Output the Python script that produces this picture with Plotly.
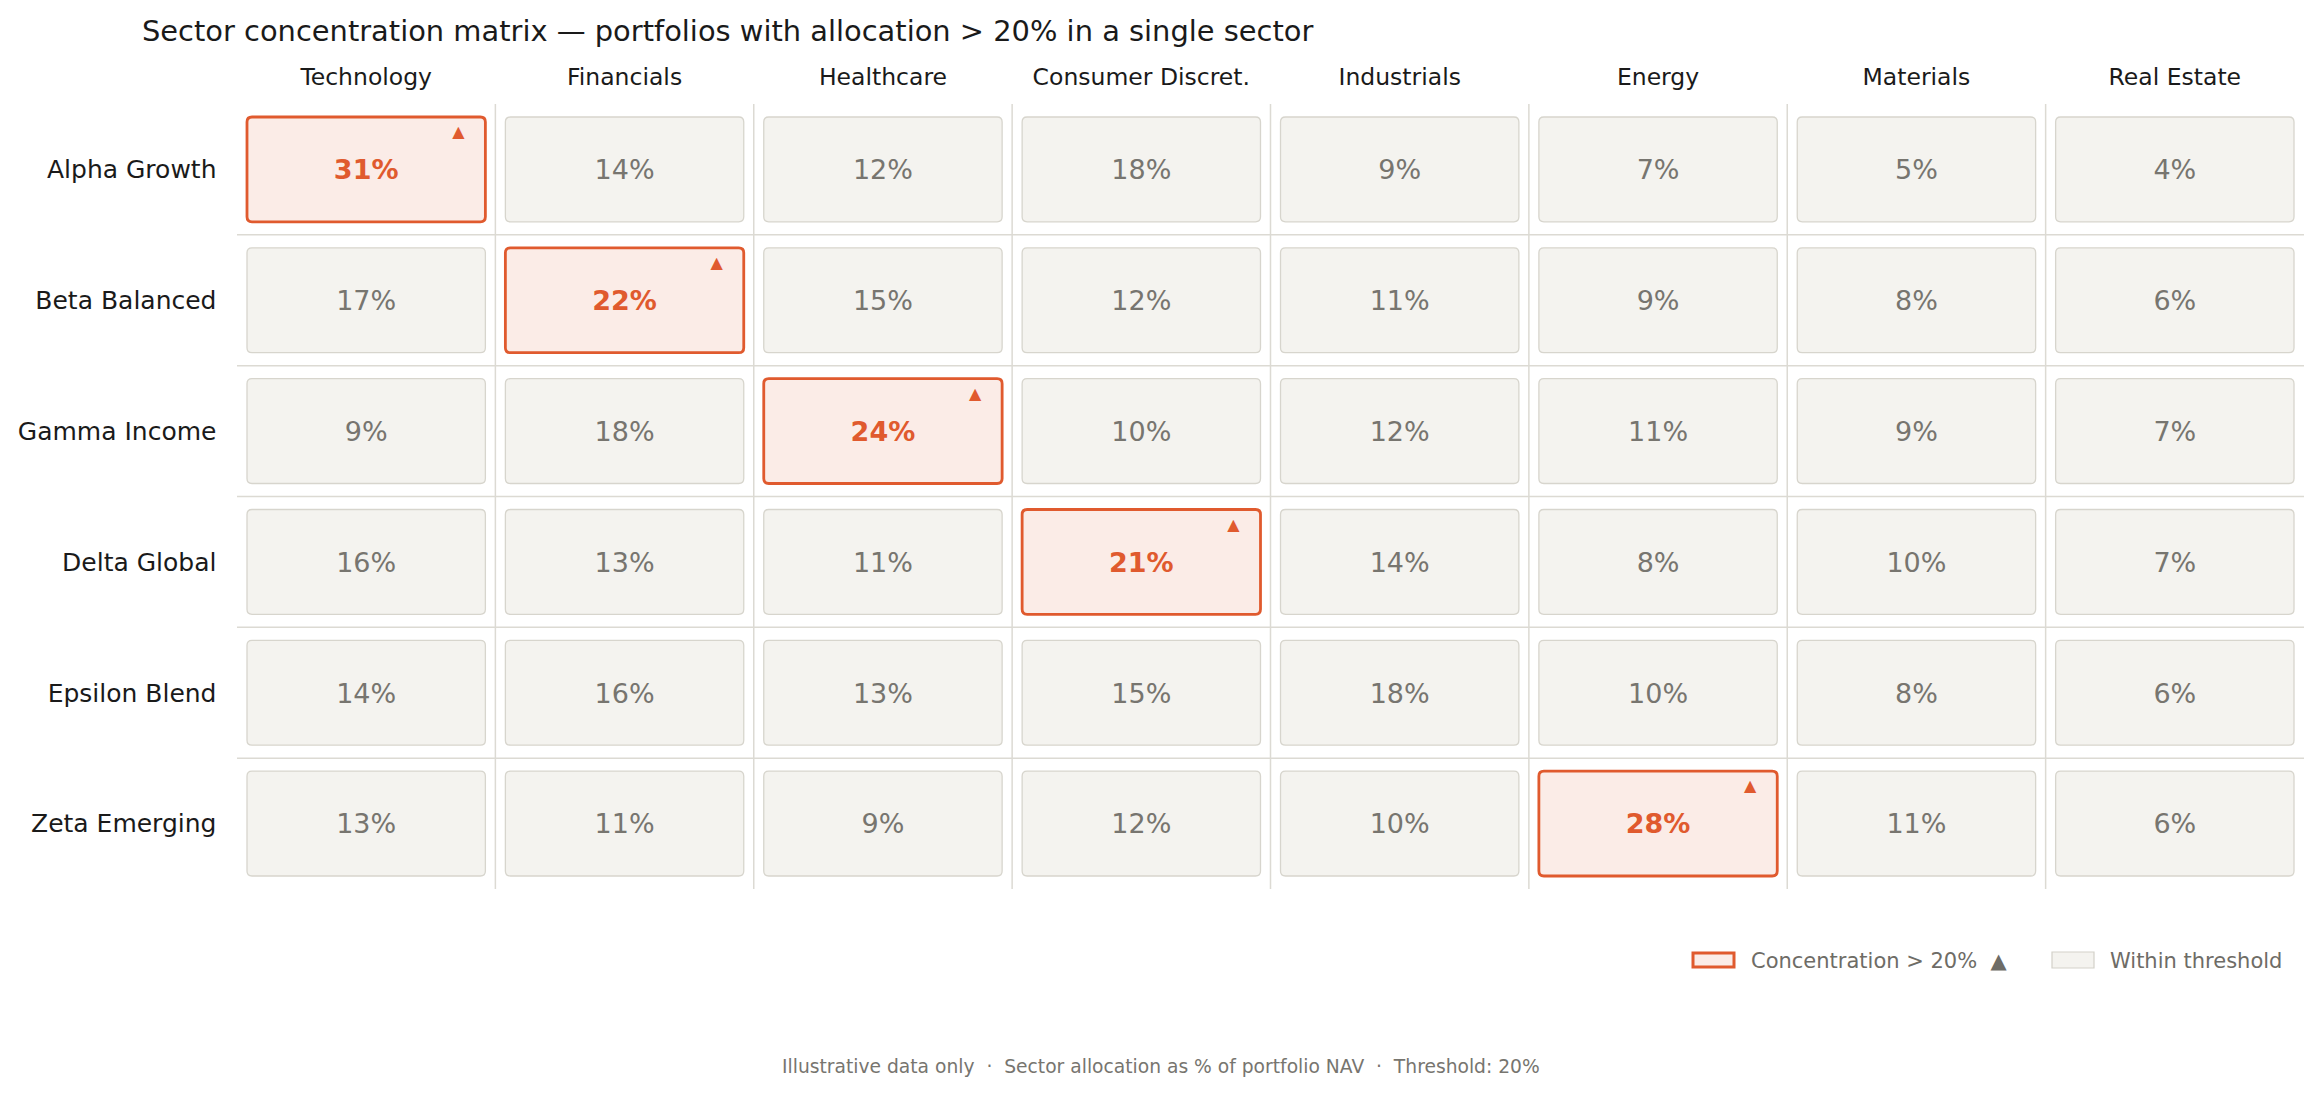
import plotly.graph_objects as go

# ---------------- data ----------------
sectors = ["Technology", "Financials", "Healthcare", "Consumer Discret.",
           "Industrials", "Energy", "Materials", "Real Estate"]
portfolios = ["Alpha Growth", "Beta Balanced", "Gamma Income",
              "Delta Global", "Epsilon Blend", "Zeta Emerging"]
values = [
    [31, 14, 12, 18, 9, 7, 5, 4],
    [17, 22, 15, 12, 11, 9, 8, 6],
    [9, 18, 24, 10, 12, 11, 9, 7],
    [16, 13, 11, 21, 14, 8, 10, 7],
    [14, 16, 13, 15, 18, 10, 8, 6],
    [13, 11, 9, 12, 10, 28, 11, 6],
]
threshold = 20

# ---------------- layout constants ----------------
OFF = 8                      # page body margin in the browser
W, H = 2322 - 2 * OFF, 1094 - 2 * OFF
ML, MT = 237 - OFF, 104 - OFF
PW, PH = 2067, 785
MR, MB = W - ML - PW, H - MT - PH
ncol, nrow = len(sectors), len(portfolios)
ux, uy = PW / ncol, PH / nrow  # px per data unit

FONT = "DejaVu Sans"
ORANGE = "#e05a2e"
HL_FILL = "#fbece7"
CELL_FILL = "#f4f3ef"
CELL_LINE = "#d7d5cd"
GRID = "#dcdad3"
VAL_GREY = "#77756f"
LEG_GREY = "#6e6c66"
DARK = "#1a1a1a"

dx, dy = 10 / ux, 13 / uy
rx, ry = 5 / ux, 5 / uy


def rrect(x0, x1, y0, y1):
    return (f"M {x0+rx},{y0} L {x1-rx},{y0} Q {x1},{y0} {x1},{y0+ry} "
            f"L {x1},{y1-ry} Q {x1},{y1} {x1-rx},{y1} L {x0+rx},{y1} "
            f"Q {x0},{y1} {x0},{y1-ry} L {x0},{y0+ry} Q {x0},{y0} {x0+rx},{y0} Z")


shapes = []
# separators
for c in range(1, ncol):
    shapes.append(dict(type="line", xref="x", yref="y", x0=c, x1=c, y0=0, y1=nrow,
                       line=dict(color=GRID, width=1.5), layer="below"))
for r in range(1, nrow):
    shapes.append(dict(type="line", xref="x", yref="y", x0=0, x1=ncol, y0=r, y1=r,
                       line=dict(color=GRID, width=1.5), layer="below"))

vy = 3 / uy  # small downward nudge for value text
nx, ny, nt = [], [], []
hx, hy, ht = [], [], []
tx, ty = [], []
for r, row in enumerate(values):
    for c, v in enumerate(row):
        hi = v > threshold
        shapes.append(dict(
            type="path", xref="x", yref="y",
            path=rrect(c + dx, c + 1 - dx, r + dy, r + 1 - dy),
            fillcolor=HL_FILL if hi else CELL_FILL,
            line=dict(color=ORANGE if hi else CELL_LINE, width=2.8 if hi else 1.3),
            layer="below"))
        if hi:
            hx.append(c + 0.5); hy.append(r + 0.5 + vy); ht.append(f"{v}%")
            tx.append(c + 1 - dx - 27 / ux); ty.append(r + dy + 16 / uy)
        else:
            nx.append(c + 0.5); ny.append(r + 0.5 + vy); nt.append(f"{v}%")

fig = go.Figure()
fig.add_trace(go.Scatter(x=nx, y=ny, text=nt, mode="text", hoverinfo="skip",
                         textfont=dict(family=FONT, size=27, color=VAL_GREY),
                         showlegend=False))
fig.add_trace(go.Scatter(x=hx, y=hy, text=ht, mode="text", hoverinfo="skip",
                         textfont=dict(family=FONT, size=27, color=ORANGE, weight="bold"),
                         showlegend=False))
fig.add_trace(go.Scatter(x=tx, y=ty, text=["▲"] * len(tx), mode="text", hoverinfo="skip",
                         textfont=dict(family=FONT, size=16, color=ORANGE),
                         showlegend=False))


# convert screenshot pixel positions to paper coordinates
def px_x(p):
    return (p - OFF - ML) / PW


def px_y(p):
    return (MT + PH - (p - OFF)) / PH


# legend
shapes.append(dict(type="rect", xref="paper", yref="paper",
                   x0=px_x(1693), x1=px_x(1734), y0=px_y(967), y1=px_y(953),
                   fillcolor=HL_FILL, line=dict(color=ORANGE, width=3)))
shapes.append(dict(type="rect", xref="paper", yref="paper",
                   x0=px_x(2052), x1=px_x(2094), y0=px_y(968), y1=px_y(952),
                   fillcolor=CELL_FILL, line=dict(color="#d3d1c9", width=1.2)))

annotations = [
    dict(xref="paper", yref="paper", x=px_x(1749), y=px_y(961), xanchor="left",
         yanchor="middle", showarrow=False,
         text="Concentration > 20%\u00a0\u00a0▲",
         font=dict(family=FONT, size=21, color=LEG_GREY)),
    dict(xref="paper", yref="paper", x=px_x(2108), y=px_y(961), xanchor="left",
         yanchor="middle", showarrow=False, text="Within threshold",
         font=dict(family=FONT, size=21, color=LEG_GREY)),
    dict(xref="paper", yref="paper", x=px_x(1161), y=px_y(1066), xanchor="center",
         yanchor="middle", showarrow=False,
         text="Illustrative data only\u00a0\u00a0·\u00a0\u00a0Sector allocation as % of portfolio NAV"
              "\u00a0\u00a0·\u00a0\u00a0Threshold: 20%",
         font=dict(family=FONT, size=18.7, color=VAL_GREY)),
]

fig.update_layout(
    width=W, height=H,
    margin=dict(l=ML, r=MR, t=MT, b=MB, autoexpand=False),
    paper_bgcolor="white", plot_bgcolor="white",
    title=dict(text="Sector concentration matrix — portfolios with allocation > 20% in a single sector",
               xref="container", yref="container", x=(142 - OFF) / W, xanchor="left",
               y=1 - (31 - OFF) / H, yanchor="middle",
               font=dict(family=FONT, size=28.9, color=DARK)),
    shapes=shapes, annotations=annotations,
    xaxis=dict(range=[0, ncol], side="top", tickvals=[i + 0.5 for i in range(ncol)],
               ticktext=sectors, showgrid=False, zeroline=False, showline=False,
               ticks="outside", ticklen=9, tickcolor="rgba(0,0,0,0)",
               tickfont=dict(family=FONT, size=23.5, color=DARK), fixedrange=True),
    yaxis=dict(range=[nrow, 0], tickvals=[i + 0.5 for i in range(nrow)],
               ticktext=portfolios, showgrid=False, zeroline=False, showline=False,
               ticks="outside", ticklen=14.5, tickcolor="rgba(0,0,0,0)",
               tickfont=dict(family=FONT, size=25, color=DARK), fixedrange=True),
    showlegend=False,
)

fig.write_html("out.html")
